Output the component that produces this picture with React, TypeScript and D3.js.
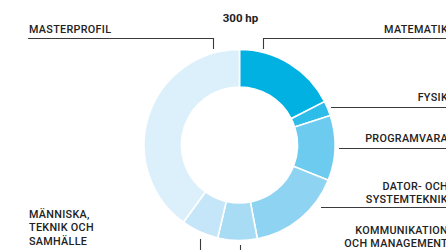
import * as React from "react";
import * as d3 from "d3";

const categories = [
  "Matematik",
  "Fysik",
  "Programvara",
  "Dator- och systemteknik",
  "Kommunikation och management",
  "Människa, teknik och samhälle",
  "Masterprofil",
];
const hp = [52.5, 7.5, 33, 48, 20, 19, 120];
const colors = ["#00b1e1", "#2ebce8", "#6ccbef", "#8ed3f1", "#a7dcf4", "#c4e6f8", "#dcf0fb"];
const totalLabel = "300 hp";

const width = 446;
const height = 250;
const cx = 239.5;
const cy = 145;
const outerR = 95.5;
const innerR = 58;

const font = "Roboto, 'Noto Sans', sans-serif";
const ink = "#222";
const lineColor = "#3a3a3a";

type Label = { lines: string[]; x: number; y: number; anchor: "start" | "end" };

const labels: Label[] = [
  { lines: ["MASTERPROFIL"], x: 29, y: 33, anchor: "start" },
  { lines: ["MATEMATIK"], x: 448, y: 33, anchor: "end" },
  { lines: ["FYSIK"], x: 448, y: 101, anchor: "end" },
  { lines: ["PROGRAMVARA"], x: 448, y: 142, anchor: "end" },
  { lines: ["DATOR- OCH", "SYSTEMTEKNIK"], x: 448, y: 190, anchor: "end" },
  { lines: ["KOMMUNIKATION", "OCH MANAGEMENT"], x: 448, y: 234, anchor: "end" },
  { lines: ["MÄNNISKA,", "TEKNIK OCH", "SAMHÄLLE"], x: 29, y: 218, anchor: "start" },
];

const leaders = [
  "M28,38.5H213.5V49",
  "M446,38.5H263.5V49",
  "M446,107.5H331",
  "M446,148.5H339",
  "M446,207.5H321",
  "M200.5,239V250",
  "M240.5,245V250",
];

export default function App() {
  const pie = d3
    .pie<number>()
    .sort(null)
    .startAngle(0)
    .endAngle(2 * Math.PI)(hp);
  const arc = d3.arc<d3.PieArcDatum<number>>().innerRadius(innerR).outerRadius(outerR);

  return (
    <div style={{ position: "fixed", left: 0, top: 0 }}>
      <svg width={width} height={height} style={{ display: "block", background: "#fff" }}>
        <g transform={`translate(${cx},${cy})`}>
          {pie.map((s, i) => (
            <path
              key={categories[i]}
              d={arc(s) || ""}
              fill={colors[i]}
              stroke="#fff"
              strokeWidth={1.6}
            />
          ))}
        </g>
        {leaders.map((d, i) => (
          <path key={"l" + i} d={d} fill="none" stroke={lineColor} strokeWidth={1.1} />
        ))}
        <text
          x={cx + 1}
          y={22}
          textAnchor="middle"
          fontFamily={font}
          fontWeight={700}
          fontSize={11.5}
          fill={ink}
        >
          {totalLabel}
        </text>
        {labels.map((l, i) => (
          <text
            key={"t" + i}
            x={l.x}
            y={l.y}
            textAnchor={l.anchor}
            fontFamily={font}
            fontWeight={500}
            fontSize={10.8}
            letterSpacing={0.3}
            fill={ink}
          >
            {l.lines.map((line, j) => (
              <tspan key={j} x={l.x} dy={j === 0 ? 0 : 13.3}>
                {line}
              </tspan>
            ))}
          </text>
        ))}
      </svg>
    </div>
  );
}
